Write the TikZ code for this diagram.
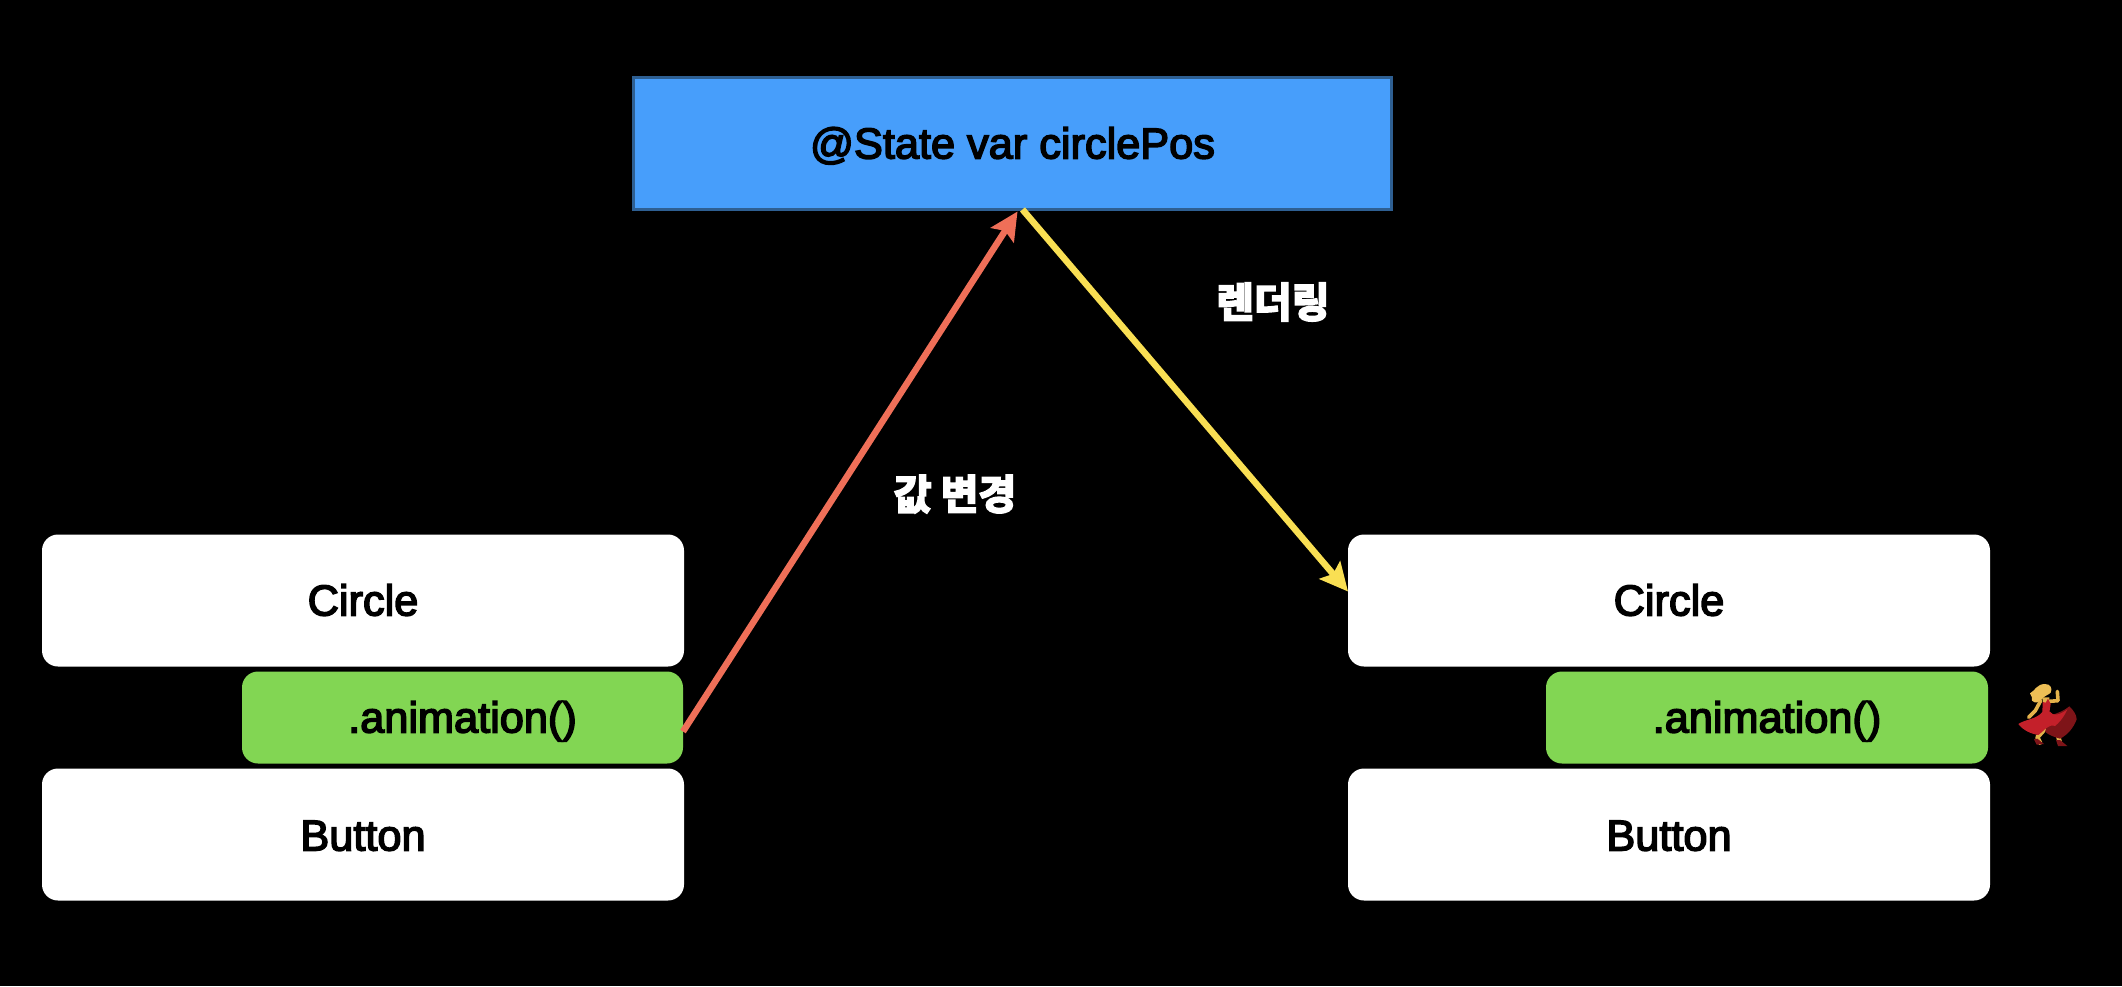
\documentclass[tikz,border=0pt]{standalone}
\usepackage{fontspec}
\usetikzlibrary{arrows.meta,calc}
\setmainfont{Liberation Sans}[FakeBold=3.5]
\newfontfamily\krfont{Noto Sans CJK KR Bold}[FakeBold=5]
\definecolor{boxgreen}{HTML}{82D653}
\definecolor{boxblue}{HTML}{479EFB}
\definecolor{boxedge}{HTML}{2E5F92}
\definecolor{redarrow}{HTML}{EF6F58}
\definecolor{yelarrow}{HTML}{F9DF53}
\definecolor{skin}{HTML}{E3B24A}
\definecolor{hair}{HTML}{EDBE55}
\definecolor{dress}{HTML}{C4202A}
\definecolor{dressdark}{HTML}{7E1418}
\tikzset{
  every node/.style={inner sep=0pt,outer sep=0pt,font=\fontsize{43.3pt}{50pt}\selectfont},
  whitebox/.style={fill=white,rounded corners=16pt,anchor=north west,minimum width=642pt,minimum height=132pt},
  greenbox/.style={fill=boxgreen,rounded corners=16pt,anchor=north west,minimum height=92pt,text height=61pt,text depth=31pt},
  statebox/.style={fill=boxblue,draw=boxedge,line width=3pt,anchor=north west,minimum width=758pt,minimum height=132pt,text height=81pt,text depth=51pt},
  link/.style={line width=6.5pt,-{Stealth[length=28pt,width=27pt,inset=5pt]}},
  kr/.style={text=white,font=\krfont\fontsize{41pt}{48pt}\selectfont}
}
\begin{document}
\begin{tikzpicture}[x=1pt,y=-1pt]
\useasboundingbox (0,0) rectangle (2122,986);
\fill[black] (0,0) rectangle (2122,986);
\node[statebox] (state) at (633.5,77.5) {@State var circlePos};
\node[whitebox,text height=81pt,text depth=51pt] (circleL) at (42,534.5) {Circle};
\node[greenbox,minimum width=441pt] (animL) at (242,671.5) {.animation()};
\node[whitebox,text height=82pt,text depth=50pt] (buttonL) at (42,768.5) {Button};
\node[whitebox,text height=81pt,text depth=51pt] (circleR) at (1348,534.5) {Circle};
\node[greenbox,minimum width=442pt] (animR) at (1546,671.5) {.animation()};
\node[whitebox,text height=82pt,text depth=50pt] (buttonR) at (1348,768.5) {Button};
\node[kr] (render) at (1273,302) {렌더링};
\node[kr] (change) at (955,494) {값 변경};
\draw[link,redarrow] ([yshift=-14pt]animL.east) -- ([xshift=5pt,yshift=-2pt]state.south);
\draw[link,yelarrow] ([xshift=10pt]state.south) -- ([yshift=9pt]circleR.west);
% dancer (colour picture in the reference)
\begin{scope}[shift={(1980,660)},x=0.3333pt,y=-0.3333pt]
  % legs
  \draw[skin,line width=4.5pt,line cap=round,line join=round] (205,195) -- (172,232) -- (180,248);
  \draw[skin,line width=4.5pt,line cap=round,line join=round] (215,195) -- (232,218) -- (240,250);
  \fill[dressdark] (162,238) -- (172,236) -- (192,252) -- (170,254) -- cycle;
  \fill[dressdark] (228,240) -- (240,240) -- (262,258) -- (234,258) -- cycle;
  % skirt
  \fill[dressdark] (212,165) .. controls (235,160) and (255,150) .. (268,139) .. controls (280,150) and (290,165) .. (290,178) .. controls (280,205) and (262,225) .. (240,236) .. controls (225,232) and (205,225) .. (195,215) -- cycle;
  \fill[dress] (188,155) -- (210,155) .. controls (218,170) and (240,165) .. (262,148) .. controls (250,175) and (235,190) .. (225,198) .. controls (205,190) and (190,215) .. (175,225) .. controls (155,222) and (130,212) .. (115,192) .. controls (135,178) and (170,178) .. (188,155) -- cycle;
  % arms
  \draw[skin,line width=3.6pt,line cap=round,line join=round] (182,122) -- (166,152) -- (146,172);
  \draw[skin,line width=3.6pt,line cap=round,line join=round] (208,124) -- (234,122) -- (232,94);
  % torso
  \fill[skin] (186,112) -- (208,112) -- (208,130) -- (190,130) -- cycle;
  \fill[dress] (188,126) -- (197,128) -- (204,116) -- (212,132) -- (208,158) -- (187,158) -- cycle;
  % hair
  \fill[hair] (150,100) .. controls (165,92) and (170,72) .. (195,72) .. controls (212,72) and (218,85) .. (212,98) .. controls (205,105) and (192,108) .. (184,118) .. controls (178,126) and (165,132) .. (156,122) .. controls (160,114) and (152,108) .. (150,100) -- cycle;
\end{scope}
\end{tikzpicture}
\end{document}
